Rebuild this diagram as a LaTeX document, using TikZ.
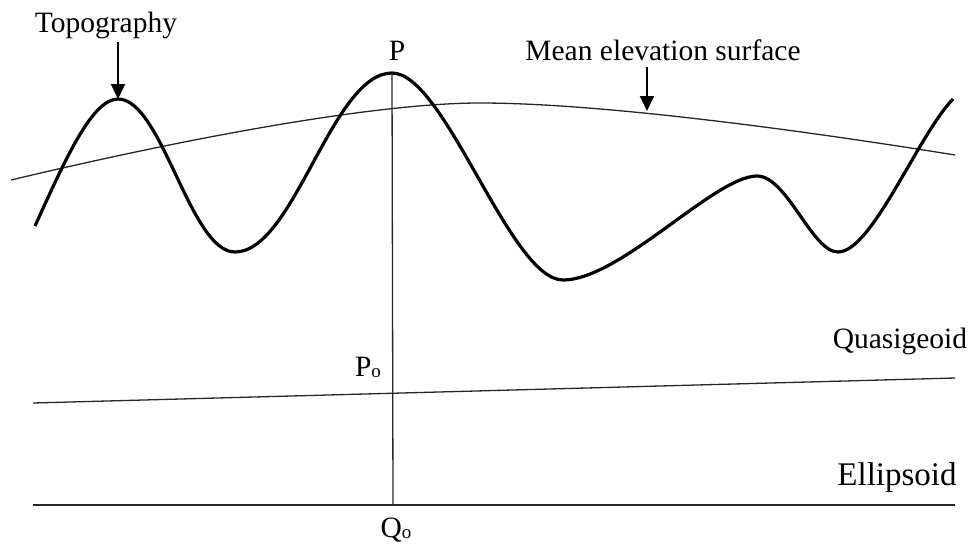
\documentclass[tikz,border=0pt]{standalone}
\usepackage{fontspec}
\setmainfont{Liberation Serif}
\usetikzlibrary{arrows.meta}
\begin{document}
\begin{tikzpicture}[x=1pt,y=-1pt,
  lbl/.style={inner sep=0pt,font=\fontsize{29.5}{32}\selectfont},
  biglbl/.style={inner sep=0pt,font=\fontsize{33}{36}\selectfont},
  thinline/.style={line width=1.3pt,black!85},
  thickline/.style={line width=3.2pt,line join=round},
  pointer/.style={line width=2pt,-{Triangle[width=14pt,length=15pt]}}]
\useasboundingbox (0,0) rectangle (972,544);
% labels
\node[lbl,anchor=base] (topo) at (106,32) {Topography};
\node[lbl,anchor=base] (P) at (397,60) {P};
\node[lbl,anchor=base] (mean) at (663,60) {Mean elevation surface};
\node[lbl,anchor=base] (quasi) at (900,348) {Quasigeoid};
\node[biglbl,anchor=base] (ell) at (897,485) {Ellipsoid};
\node[lbl,anchor=base] (P0) at (368,376) {P\raisebox{-1pt}{\fontsize{19}{19}\selectfont o}};
\node[lbl,anchor=base] (Q0) at (396,537) {Q\raisebox{-1pt}{\fontsize{19}{19}\selectfont o}};
% key points
\coordinate (tpeak) at (118,99);
\coordinate (ppeak) at (392,73);
\coordinate (meanpt) at (647,111);
\coordinate (topostart) at (118,42);
\coordinate (meanstart) at (647,67);
\coordinate (qa) at (33,403);
\coordinate (qb) at (955,378);
\coordinate (ea) at (33,505);
\coordinate (eb) at (955,505);
\coordinate (Qfoot) at (393,505);
% mean elevation surface
\draw[thinline] (11,180) .. controls (200,135) and (380,103) .. (480,103)
  .. controls (600,103) and (800,130) .. (955,155);
% topography
\draw[thickline] (35,226) .. controls (65,160) and (92,99) .. (tpeak)
  .. controls (162,99) and (190,252) .. (235,252)
  .. controls (294,252) and (332,73) .. (ppeak)
  .. controls (445,73) and (510,280) .. (563,280)
  .. controls (620,280) and (715,176) .. (757,176)
  .. controls (787,176) and (812,252) .. (838,252)
  .. controls (872,252) and (918,135) .. (953,99);
% vertical line
\draw[thinline] (ppeak) -- (Qfoot);
% quasigeoid and ellipsoid
\draw[thinline] (qa) -- (qb);
\draw[thinline] (ea) -- (eb);
% pointers
\draw[pointer] (topostart) -- (tpeak);
\draw[pointer] (meanstart) -- (meanpt);
\end{tikzpicture}
\end{document}
